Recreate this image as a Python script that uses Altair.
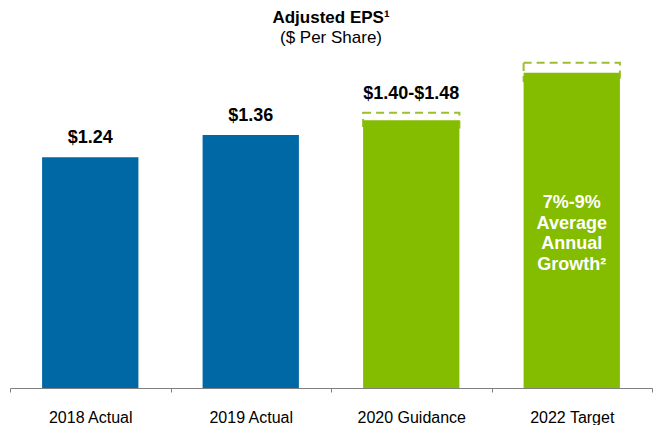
import altair as alt
import pandas as pd

categories = ["2018 Actual", "2019 Actual", "2020 Guidance", "2022 Target"]
bar_values = [1.24, 1.36, 1.44, 1.695]
range_low = [None, None, 1.40, 1.65]
range_high = [None, None, 1.48, 1.748]
value_labels = ["$1.24", "$1.36", "$1.40-$1.48", ""]
label_at = [1.24, 1.36, 1.48, None]
kinds = ["Actual", "Actual", "Outlook", "Outlook"]
note_text = ["7%-9%", "Average", "Annual", "Growth²"]

df = pd.DataFrame({
    "cat": categories,
    "value": bar_values,
    "lo": range_low,
    "hi": range_high,
    "label": value_labels,
    "label_y": label_at,
    "kind": kinds,
})

FONT = "Liberation Sans"
BLUE = "#0068A5"
GREEN = "#84BC00"
DASH = "#9DBE2E"

xenc = alt.X("cat:N", sort=categories,
             scale=alt.Scale(paddingInner=0, paddingOuter=0),
             axis=alt.Axis(title=None, labelAngle=0, tickBand="extent",
                           labelFont=FONT, labelFontSize=16, labelColor="#000000",
                           labelPadding=17, tickSize=4, tickColor="#7f7f7f",
                           domainColor="#7f7f7f", grid=False))
yscale = alt.Scale(domain=[0, 1.774], nice=False, zero=True)

base = alt.Chart(df)

ranges = base.transform_filter("datum.hi != null").mark_bar(
    width=alt.RelativeBandSize(0.6), fill=None, stroke=DASH,
    strokeWidth=2, strokeDash=[8, 5]
).encode(
    x=xenc,
    y=alt.Y("lo:Q", scale=yscale, axis=None),
    y2="hi:Q",
)

bars = base.mark_bar(width=alt.RelativeBandSize(0.6)).encode(
    x=xenc,
    y=alt.Y("value:Q", scale=yscale, axis=None),
    color=alt.Color("kind:N", scale=alt.Scale(domain=["Actual", "Outlook"], range=[BLUE, GREEN]), legend=None),
)

labels = base.transform_filter("datum.label != ''").mark_text(
    font=FONT, fontSize=18, fontWeight="bold", color="#000000",
    baseline="middle", dy=-19
).encode(
    x=xenc,
    y=alt.Y("label_y:Q", scale=yscale, axis=None),
    text="label:N",
)

note_df = pd.DataFrame({"cat": [categories[3]], "note": [note_text]})
note = alt.Chart(note_df).mark_text(
    font=FONT, fontSize=18, fontWeight="bold", color="#ffffff",
    baseline="middle", lineHeight=20.5
).encode(
    x=alt.X("cat:N", sort=categories, scale=alt.Scale(paddingInner=0, paddingOuter=0)),
    y=alt.value(145),
    text="note",
)

chart = alt.layer(ranges, bars, labels, note).properties(
    width=642, height=330,
    padding={"left": 2, "top": 50, "right": 2, "bottom": 37},
    autosize=alt.AutoSizeParams(type="none"),
    background="#ffffff",
    title=alt.Title(
        text="Adjusted EPS¹", subtitle="($ Per Share)",
        font=FONT, fontSize=17, fontWeight="bold", color="#000000",
        subtitleFont=FONT, subtitleFontSize=17, subtitleColor="#000000",
        subtitlePadding=3, anchor="middle", offset=11,
    ),
).configure_view(stroke=None)

chart.save("out.html", embed_options={"renderer": "svg", "actions": False})
